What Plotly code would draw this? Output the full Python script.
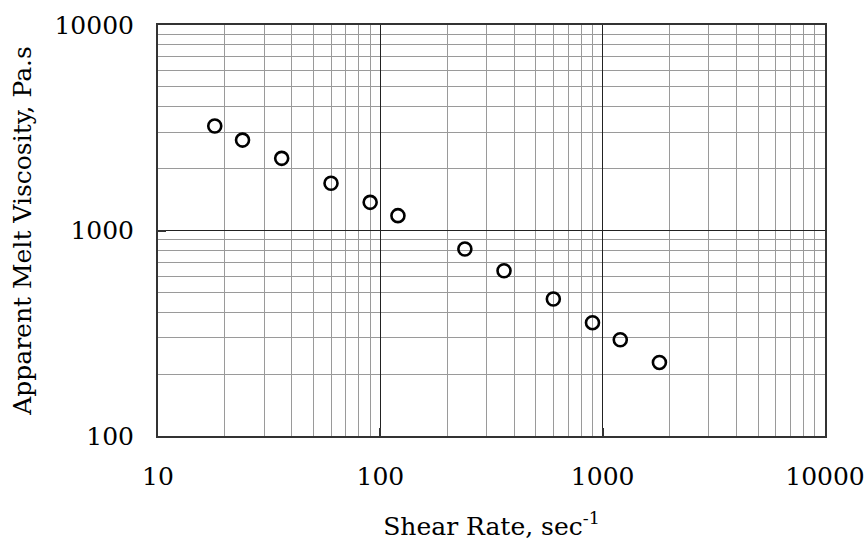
import plotly.graph_objects as go

# Data
shear_rate = [18, 24, 36, 60, 90, 120, 240, 360, 600, 900, 1200, 1800]
viscosity = [3225, 2754, 2245, 1698, 1371, 1181, 813, 637, 464, 356, 294, 228]

x_ticks = [10, 100, 1000, 10000]
x_ticklabels = ["10", "100", "1000", "10000"]
y_ticks = [100, 1000, 10000]
y_ticklabels = ["100", "1000", "10000"]

FONT = "DejaVu Serif"
TICK_SIZE = 25
TITLE_SIZE = 25

def minor_vals(lo_exp, hi_exp):
    vals = []
    for e in range(lo_exp, hi_exp):
        for d in range(2, 10):
            vals.append(d * 10 ** e)
    return vals

fig = go.Figure()
fig.add_trace(go.Scatter(
    x=shear_rate, y=viscosity, mode="markers",
    marker=dict(symbol="circle-open", size=13, color="black",
                line=dict(width=2.6, color="black")),
    showlegend=False,
))

axis_common = dict(
    type="log",
    automargin=False,
    showline=True, mirror=True, linecolor="#333", linewidth=2,
    showgrid=True, gridcolor="#222", gridwidth=1,
    ticks="inside", ticklen=8, tickcolor="#333", tickwidth=2,
    tickfont=dict(family=FONT, size=TICK_SIZE, color="black"),
    zeroline=False,
)

fig.update_layout(
    width=868, height=542,
    margin=dict(l=158, r=43, t=25, b=106),
    paper_bgcolor="white", plot_bgcolor="white",
    font=dict(family=FONT, color="black"),
    xaxis=dict(
        axis_common,
        range=[1, 4],
        tickmode="array", tickvals=x_ticks, ticktext=x_ticklabels,
        minor=dict(tickmode="array", tickvals=minor_vals(1, 4), showgrid=True,
                   gridcolor="#9a9a9a", gridwidth=1, ticks=""),
        ticklabelstandoff=17,
        title=dict(text="Shear Rate, sec<sup>-1</sup>",
                   font=dict(family=FONT, size=TITLE_SIZE, color="black"), standoff=27),
    ),
    yaxis=dict(
        axis_common,
        range=[2, 4],
        tickmode="array", tickvals=y_ticks, ticktext=y_ticklabels,
        minor=dict(tickmode="array", tickvals=minor_vals(2, 4), showgrid=True,
                   gridcolor="#9a9a9a", gridwidth=1, ticks=""),
        ticklabelstandoff=17,
        title=dict(text="Apparent Melt Viscosity, Pa.s",
                   font=dict(family=FONT, size=TITLE_SIZE, color="black"), standoff=16),
    ),
)

# remove the browser's default page margin so the figure fills the window exactly
page_fix = ("document.body.style.margin='0px';"
            "document.documentElement.style.overflow='hidden';"
            "document.body.style.overflow='hidden';")

fig.write_html("out.html", post_script=page_fix,
               config={"displayModeBar": False, "staticPlot": False})
